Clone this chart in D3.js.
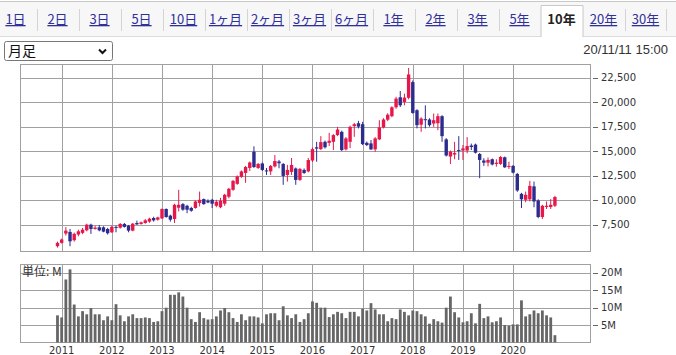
<!DOCTYPE html>
<html>
<head>
<meta charset="utf-8">
<script src="https://cdn.jsdelivr.net/npm/d3@7"></script>
<style>
  body { margin: 0; background: #fff; }
  svg { display: block; }
</style>
</head>
<body>
<svg id="chart" width="676" height="355"></svg>
<script>
// 10-year monthly candles (Dec 2010 .. Nov 2020)

var tabLabels = ["1日","2日","3日","5日","10日","1ヶ月","2ヶ月","3ヶ月","6ヶ月","1年","2年","3年","5年","10年","20年","30年"],
    selectedTab = "10年",
    periodLabel = "月足",
    stamp = "20/11/11 15:00",
    unitLabel = "単位: M";

var priceTicks = [7500, 10000, 12500, 15000, 17500, 20000, 22500],
    volTicks = [5, 10, 15, 20];

var months = d3.timeMonth.range(new Date(2010, 11, 1), new Date(2020, 11, 1));

var open = [5310,5650,6600,6770,5920,6500,6670,6930,7510,7070,
  7240,7240,7070,6730,7280,7200,7580,7410,6900,7680,
  7580,7680,7820,8190,8020,8150,9110,8430,8090,9240,
  9610,9440,9210,9210,9720,10120,9950,10050,9440,9290,
  9650,10360,11070,11680,12390,12790,13300,14960,13300,13760,
  13050,12950,13460,13960,13710,12590,12900,13250,12080,13100,
  12950,14060,15410,15230,15970,15870,15970,16660,16990,15200,
  15970,17570,17870,17770,15870,15810,15200,16220,17440,18230,
  18590,19500,20520,20040,20470,22070,19200,17720,18280,18250,
  17840,17870,18590,16220,14470,14670,15130,15080,15080,15590,
  15690,14730,14060,13840,14190,13710,13710,14390,13430,13510,
  12690,10660,10050,10100,11420,9980,8290,9310,9310,9440];

var close = [5650,5990,6900,5810,6570,6830,7000,7510,7070,7210,
  6930,6800,6630,7280,7180,7580,7280,6900,7610,7540,
  7750,7950,8120,7950,8250,9110,8290,8020,9540,9540,
  9040,9040,8930,9880,10050,9610,9780,9650,9850,9950,
  10560,11170,11980,12440,12950,13400,13860,13400,13710,13100,
  12950,13510,14010,13780,12490,13100,13610,12080,13200,12790,
  14110,15230,15280,15940,15410,16080,16660,17230,15130,16320,
  17500,17770,17520,15740,15640,15200,16320,17440,18250,18740,
  19500,20380,19700,20490,22850,18920,17670,18350,18180,17670,
  18180,18590,16550,14570,14960,14830,15030,15300,15540,15440,
  14860,14120,13840,14120,13660,13840,14420,13370,13510,12820,
  11000,10100,10560,11470,9880,8290,9440,9440,9540,10330];

var high = [5780,6090,7260,7070,6700,7000,7180,7610,7610,7410,
  7480,7340,7180,7410,7410,7680,7680,7480,7680,7920,
  7820,8090,8220,8320,8320,9170,9170,8530,9650,11070,
  9720,9540,9340,9980,10890,10180,10100,10150,10050,10250,
  10660,11270,12080,12540,13050,13510,13960,15510,13810,13860,
  13300,13610,14620,14120,13810,13610,14320,13350,13300,13250,
  14320,15390,15970,16550,16100,16890,16760,17500,17110,16450,
  17620,17910,18110,18010,16000,16150,16450,18180,18380,18890,
  19600,20570,21160,20890,23510,22240,19300,18480,19700,18380,
  18860,18860,18690,16350,15080,15970,16550,15640,16450,15790,
  15790,14830,14290,14370,14270,14190,14520,14470,13940,13610,
  12790,10760,10890,11980,11910,10100,9540,9880,10120,10460];

var low = [5170,5580,6390,5310,5780,6320,6530,6830,6570,7000,
  6830,6730,6500,6670,6730,7100,7210,6730,6830,7480,
  7510,7610,7710,7820,7920,8090,8220,7820,7680,8860,
  8930,8680,8830,9140,9370,9540,9700,9210,9290,9190,
  9440,10200,10970,11580,12290,11780,13000,13300,13200,13000,
  12590,12590,13350,13270,11580,11910,12590,11580,11980,12690,
  12850,13910,13940,15130,15280,15540,15130,16550,15030,15080,
  15330,16480,17340,15640,15540,15130,14960,16150,17340,18080,
  18480,19350,19530,19700,20310,18840,17340,16990,17340,17520,
  17500,17160,15970,14470,13710,14190,14120,14120,14800,15130,
  14780,12260,13510,13460,13560,13430,13610,13300,13200,12740,
  10860,9210,9800,9880,9290,8170,8090,9110,9110,9310];

// volume, millions of shares
var volume = [7.8,7.2,18.1,21.0,10.9,7.5,9.0,8.1,9.9,8.1,
  8.1,6.4,7.5,6.4,11.0,7.8,6.1,7.5,8.1,7.0,
  7.0,7.2,7.0,5.9,6.1,9.0,10.0,13.7,13.7,14.4,
  13.2,10.0,6.7,5.9,8.7,7.0,6.6,6.7,7.5,9.2,
  9.9,8.7,7.0,5.9,8.1,6.4,7.5,7.5,7.2,5.5,
  8.1,8.4,8.4,6.4,10.4,7.8,7.0,8.1,5.9,6.7,
  8.4,11.8,11.4,10.0,10.0,7.3,8.1,8.8,8.4,7.0,
  8.8,8.8,7.5,9.7,9.2,11.3,9.5,8.1,8.1,6.1,
  7.0,6.7,9.5,8.8,7.8,9.2,9.0,8.1,7.5,5.4,
  6.7,6.1,5.7,10.0,13.2,8.7,7.2,5.8,6.1,8.4,
  5.5,11.1,7.0,7.5,5.8,6.1,7.2,5.0,4.8,5.2,
  5.2,12.1,7.5,8.1,9.2,8.4,9.2,7.8,7.2,2.1];

var upColor = "#e6184b",
    downColor = "#2c2c8e",
    gridColor = "#a0a0a0",
    labelFont = "'DejaVu Sans', sans-serif",
    jpFont = "'Noto Sans CJK JP', sans-serif";

var pL = 20.5, pR = 590.5,
    mainTop = 64.5, mainBot = 251.5,
    volTop = 264.5, volBot = 342.5;

var svg = d3.select("#chart");

// ---- period tabs
var tabX = d3.scaleBand().domain(tabLabels).range([-5.5, 666.5]);

svg.append("rect").attr("x", 0).attr("y", 1.5).attr("width", 676).attr("height", 35)
    .attr("fill", "#f7f7f7");
svg.append("line").attr("x1", 0).attr("x2", 676).attr("y1", 1.5).attr("y2", 1.5)
    .attr("stroke", "#c8c8c8");
svg.append("line").attr("x1", 0).attr("x2", 676).attr("y1", 36.5).attr("y2", 36.5)
    .attr("stroke", "#dcdcdc");

var sx = tabX(selectedTab);
svg.append("rect").attr("x", sx + 0.5).attr("y", 5.5).attr("width", tabX.bandwidth()).attr("height", 32)
    .attr("fill", "#fff");
svg.append("path")
    .attr("d", `M${sx + 0.5},37V5.5H${sx + tabX.bandwidth() + 0.5}V37`)
    .attr("fill", "none").attr("stroke", "#c8c8c8");

svg.selectAll(".tabsep")
  .data(tabLabels.filter(function(d, i) { return i < tabLabels.length - 1 && d != selectedTab && tabLabels[i + 1] != selectedTab; }))
  .enter().append("line")
    .attr("x1", function(d) { return Math.round(tabX(d) + tabX.bandwidth()) + 0.5; })
    .attr("x2", function(d) { return Math.round(tabX(d) + tabX.bandwidth()) + 0.5; })
    .attr("y1", 9).attr("y2", 31)
    .attr("stroke", "#d4d4d4");
svg.append("line").attr("x1", 666.5).attr("x2", 666.5).attr("y1", 9).attr("y2", 31).attr("stroke", "#d4d4d4");

svg.selectAll(".tab")
  .data(tabLabels)
  .enter().append("text")
    .attr("x", function(d) { return tabX(d) + tabX.bandwidth() / 2; })
    .attr("y", 24)
    .attr("text-anchor", "middle")
    .style("font-family", jpFont)
    .style("font-size", "13px")
    .style("font-weight", function(d) { return d == selectedTab ? "bold" : null; })
    .style("text-decoration", function(d) { return d == selectedTab ? null : "underline"; })
    .attr("fill", function(d) { return d == selectedTab ? "#222" : "#30309a"; })
    .text(String);

// ---- select box + timestamp
svg.append("rect").attr("x", 4.5).attr("y", 41.5).attr("width", 108).attr("height", 19).attr("rx", 2)
    .attr("fill", "#fff").attr("stroke", "#777");
svg.append("text").attr("x", 8).attr("y", 56)
    .style("font-family", jpFont).style("font-size", "14px").attr("fill", "#111")
    .text(periodLabel);
svg.append("path").attr("d", "M99,49.5L102.5,53L106,49.5")
    .attr("fill", "none").attr("stroke", "#111").attr("stroke-width", 2);
svg.append("text").attr("x", 668).attr("y", 54).attr("text-anchor", "end")
    .style("font-family", "'Liberation Sans', Arial, sans-serif").style("font-size", "13px")
    .attr("fill", "#333").text(stamp);

// ---- scales
var x = d3.scaleBand().domain(months).range([55.4, 557]);
var cx = function(m) { return x(m) + x.bandwidth() / 2; };

var y = d3.scaleLinear().domain([4768, 23869]).range([mainBot, mainTop]);
var yv = d3.scaleLinear().domain([0, 22.4]).range([volBot, volTop]);

var jan = months.filter(function(m) { return m.getMonth() == 0; });

function panel(top, bot, scale, ticks, fmt) {
  var g = svg.append("g");
  g.selectAll(".hg").data(ticks).enter().append("line")
      .attr("x1", pL).attr("x2", pR)
      .attr("y1", function(d) { return Math.round(scale(d)) + 0.5; })
      .attr("y2", function(d) { return Math.round(scale(d)) + 0.5; })
      .attr("stroke", gridColor);
  g.selectAll(".vg").data(jan).enter().append("line")
      .attr("x1", function(d) { return Math.round(cx(d)) + 0.5; })
      .attr("x2", function(d) { return Math.round(cx(d)) + 0.5; })
      .attr("y1", top).attr("y2", bot)
      .attr("stroke", gridColor);
  g.append("rect").attr("x", pL).attr("y", top).attr("width", pR - pL).attr("height", bot - top)
      .attr("fill", "none").attr("stroke", gridColor);
  g.selectAll(".tk").data(ticks).enter().append("line")
      .attr("x1", 593).attr("x2", 598)
      .attr("y1", function(d) { return Math.round(scale(d)) + 0.5; })
      .attr("y2", function(d) { return Math.round(scale(d)) + 0.5; })
      .attr("stroke", "#666");
  g.selectAll(".tl").data(ticks).enter().append("text")
      .attr("x", 601)
      .attr("y", function(d) { return scale(d) + 3.5; })
      .style("font-family", labelFont).style("font-size", "10px")
      .attr("fill", "#333")
      .text(fmt);
  return g;
}

panel(mainTop, mainBot, y, priceTicks, d3.format(","));
panel(volTop, volBot, yv, volTicks, function(d) { return d + "M"; });

// ---- candles
var candles = months.map(function(m, i) {
  return { m: m, o: open[i], h: high[i], l: low[i], c: close[i], v: volume[i] };
});
var col = function(d) { return d.c >= d.o ? upColor : downColor; };

svg.append("g").selectAll("line").data(candles).enter().append("line")
    .attr("x1", function(d) { return cx(d.m); })
    .attr("x2", function(d) { return cx(d.m); })
    .attr("y1", function(d) { return y(d.h); })
    .attr("y2", function(d) { return y(d.l); })
    .attr("stroke", col).attr("stroke-width", 1);

svg.append("g").selectAll("rect").data(candles).enter().append("rect")
    .attr("x", function(d) { return cx(d.m) - 1.7; })
    .attr("width", 3.4)
    .attr("y", function(d) { return y(Math.max(d.o, d.c)); })
    .attr("height", function(d) { return Math.max(1, Math.abs(y(d.o) - y(d.c))); })
    .attr("fill", col);

// ---- volume
svg.append("g").selectAll("rect").data(candles).enter().append("rect")
    .attr("x", function(d) { return cx(d.m) - 1.4; })
    .attr("width", 2.8)
    .attr("y", function(d) { return yv(d.v); })
    .attr("height", function(d) { return yv(0) - yv(d.v); })
    .attr("fill", "#666");

svg.append("text").attr("x", 22).attr("y", 276)
    .style("font-family", jpFont).style("font-size", "12px").attr("fill", "#333")
    .text(unitLabel);

// ---- year labels
svg.selectAll(".yr").data(jan).enter().append("text")
    .attr("x", function(d) { return cx(d); })
    .attr("y", 354)
    .attr("text-anchor", "middle")
    .style("font-family", labelFont).style("font-size", "10px")
    .attr("fill", "#333")
    .text(function(d) { return d.getFullYear(); });
</script>
</body>
</html>
